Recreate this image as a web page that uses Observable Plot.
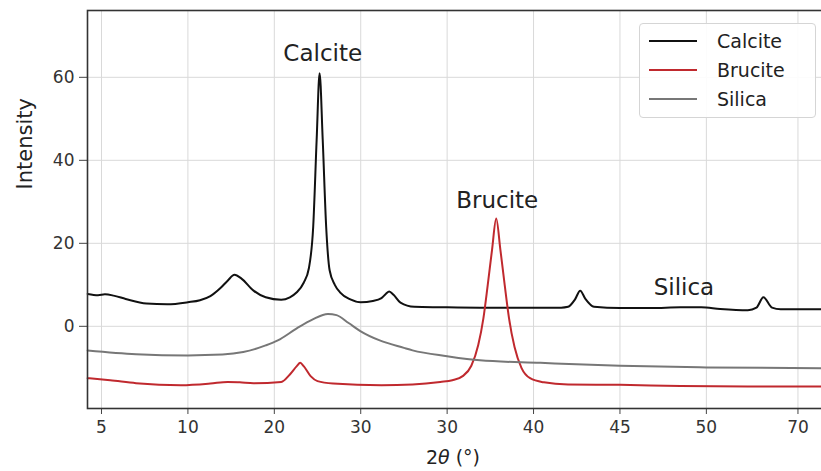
<!DOCTYPE html>
<html><head><meta charset="utf-8">
<script src="https://cdn.jsdelivr.net/npm/d3@7"></script>
<script src="https://cdn.jsdelivr.net/npm/@observablehq/plot@0.6"></script>
<style>
body{margin:0;background:#fff;}
#wrap{position:relative;width:821px;height:471px;overflow:hidden;font-family:"DejaVu Sans",sans-serif;}
#wrap svg{max-width:none !important;}
#legend{position:absolute;left:639px;top:23px;width:177px;height:95px;border:1px solid #d5d5d5;border-radius:4px;background:rgba(255,255,255,0.9);box-sizing:border-box;}
.row{position:absolute;left:0;height:24px;display:flex;align-items:center;}
.row svg{margin-left:9px;}
.row span{margin-left:20px;font-size:19px;color:#222;}
</style></head>
<body><div id="wrap"></div>
<script>
// ---- data ----
const seriesNames = ["Calcite", "Brucite", "Silica"];
const seriesColors = ["#111111", "#c0292e", "#777777"];

const calciteX = [4.2,4.8,5.2,5.7,6.4,7.6,8.8,10.0,10.7,11.3,11.9,12.3,12.7,13.1,13.8,14.5,15.4,15.9,16.3,16.7,17.0,17.25,17.45,17.62,17.8,18.0,18.2,18.5,18.8,19.4,20.0,20.7,21.2,21.45,21.65,21.9,22.3,23.1,24.6,26.9,29.3,31.6,32.0,32.4,32.7,33.0,33.5,35.0,36.8,38.5,39.7,40.8,42.4,42.9,43.3,43.8,44.3,45.5,46.7];
const calciteY = [7.8,7.5,7.7,7.4,6.6,5.5,5.3,5.8,6.3,7.3,9.3,11.0,12.4,11.5,8.6,7.0,6.4,7.0,8.2,10.5,14,24,45,61,45,24,13.5,10,8.2,6.5,5.8,6.1,6.8,7.8,8.4,7.6,5.7,4.7,4.6,4.5,4.5,4.5,4.7,6.5,8.6,6.6,4.7,4.4,4.4,4.6,4.6,4.2,3.9,4.5,7.0,4.5,4.1,4.1,4.1];

const bruciteX = [4.2,5.5,7.0,9.6,11.3,12.3,13.0,13.8,15.4,15.9,16.3,16.5,16.7,17.1,17.5,18.4,21.2,23.0,24.6,25.3,25.9,26.4,26.8,27.1,27.35,27.6,27.84,28.08,28.33,28.58,28.9,29.3,29.8,30.6,32.0,35.0,38.5,42.4,46.7];
const bruciteY = [-12.5,-13.0,-13.7,-14.2,-13.8,-13.4,-13.5,-13.7,-13.4,-11.6,-9.6,-8.8,-9.6,-12.0,-13.2,-13.8,-14.2,-14.0,-13.4,-13.0,-12.0,-9.5,-4.5,2,10,18.5,26,18.5,10,2,-5,-10,-12.5,-13.5,-14.0,-14.1,-14.4,-14.5,-14.5];

const silicaX = [4.2,7.0,10.0,12.0,13.2,14.5,15.2,16.3,17.2,18.1,18.6,19.3,20.0,21.1,22.5,23.0,25.0,26.9,30.4,35.0,40.0,46.7];
const silicaY = [-5.8,-6.7,-7.0,-6.8,-6.2,-4.6,-3.4,-0.5,1.6,3.0,2.7,0.8,-1.2,-3.4,-5.2,-5.8,-7.2,-8.2,-8.8,-9.5,-9.9,-10.1];

const xTickValues = [5,10,15,20,25,30,35,40,45.3];
const xTickLabels = ["5","10","20","30","30","40","45","50","70"];
const yTickValues = [0,20,40,60];

const annoLabels = ["Calcite","Brucite","Silica"];
const annoX = [17.8, 27.9, 38.7];
const annoY = [65.7, 30.4, 9.4];

// ---- build ----
const data = [];
[[calciteX,calciteY],[bruciteX,bruciteY],[silicaX,silicaY]].forEach(([xs,ys],i)=>{
  xs.forEach((x,j)=>data.push({series:seriesNames[i], x, y:ys[j]}));
});
const annos = annoLabels.map((t,i)=>({t, x:annoX[i], y:annoY[i]}));

const plot = Plot.plot({
  width: 832, height: 471,
  marginLeft: 87, marginRight: 10, marginTop: 10, marginBottom: 63,
  style: {fontFamily: '"DejaVu Sans", sans-serif', background: "#fff", maxWidth: "none"},
  x: {domain: [4.19, 46.72]},
  y: {domain: [-19.8, 76.1]},
  color: {domain: seriesNames, range: seriesColors},
  marks: [
    Plot.gridX(xTickValues, {stroke: "#d9d9d9", strokeOpacity: 1, strokeWidth: 1}),
    Plot.gridY(yTickValues, {stroke: "#d9d9d9", strokeOpacity: 1, strokeWidth: 1}),
    Plot.line(data, {x: "x", y: "y", z: "series", stroke: "series", strokeWidth: 2, curve: "monotone-x"}),
    Plot.text(annos, {x: "x", y: "y", text: "t", fontSize: 23, fill: "#222"}),
    Plot.axisX(xTickValues, {tickFormat: (d,i)=>xTickLabels[i], tickSize: 6, tickPadding: 6, fontSize: 17, stroke: "#444", fill: "#333", label: null}),
    Plot.axisY(yTickValues, {tickSize: 8, tickPadding: 5, fontSize: 17, stroke: "#444", fill: "#333", label: null}),
    Plot.frame({stroke: "#333", strokeWidth: 1.6}),
    Plot.text(["Intensity"], {frameAnchor: "left", dx: -62, dy: -20, rotate: -90, fontSize: 21, fill: "#222"})
  ]
});

const svg = d3.select(plot);
const t = svg.append("text").attr("x", 453).attr("y", 458).attr("text-anchor", "middle")
  .attr("dominant-baseline", "middle").attr("font-size", 19).attr("fill", "#222");
t.append("tspan").text("2");
t.append("tspan").attr("font-style", "italic").text("θ");
t.append("tspan").text(" (°)");

const wrap = document.getElementById("wrap");
wrap.appendChild(plot);

const legend = document.createElement("div");
legend.id = "legend";
seriesNames.forEach((name,i)=>{
  const row = document.createElement("div");
  row.className = "row";
  row.style.top = (5 + i*29) + "px";
  row.innerHTML = `<svg width="48" height="4"><line x1="0" y1="2" x2="48" y2="2" stroke="${seriesColors[i]}" stroke-width="2"/></svg><span>${name}</span>`;
  legend.appendChild(row);
});
wrap.appendChild(legend);
</script>
</body></html>
